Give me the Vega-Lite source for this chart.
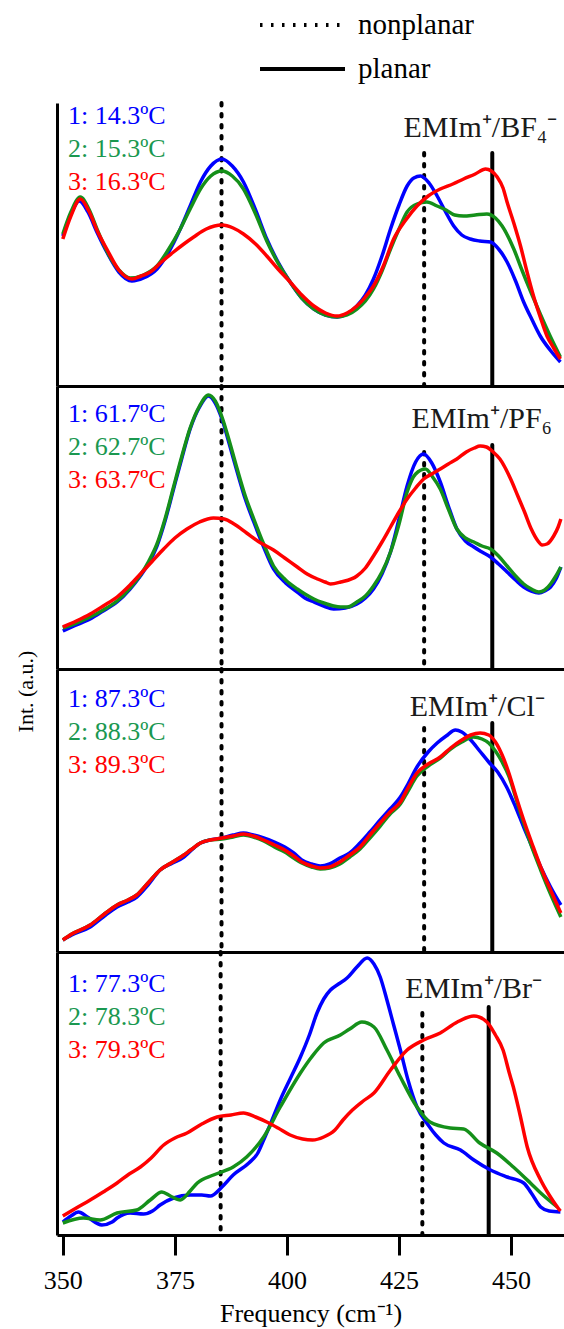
{
"$schema": "https://vega.github.io/schema/vega-lite/v6.json",
"autosize": {"type": "none"},
"padding": {"left": 57, "top": 103, "right": 507, "bottom": 1226},
"background": "white",
"bounds": "flush",
"spacing": 0,
"datasets": {
"refs": [
{"p":"a","type":"nonplanar","f":385.4,"top":283},{"p":"a","type":"nonplanar","f":430.6,"top":233},{"p":"a","type":"planar","f":445.8,"top":233},
{"p":"b","type":"nonplanar","f":385.4,"top":283},{"p":"b","type":"nonplanar","f":430.6,"top":217},{"p":"b","type":"planar","f":445.8,"top":224},
{"p":"c","type":"nonplanar","f":385.4,"top":283},{"p":"c","type":"nonplanar","f":430.6,"top":224},{"p":"c","type":"planar","f":445.8,"top":229},
{"p":"d","type":"nonplanar","f":385.2,"top":283},{"p":"d","type":"nonplanar","f":430.2,"top":222},{"p":"d","type":"planar","f":445.0,"top":228}
],
"names": [
{"p":"a","name":"EMIm⁺/BF₄⁻","f":426.0,"v":249},
{"p":"b","name":"EMIm⁺/PF₆","f":427.8,"v":241},
{"p":"c","name":"EMIm⁺/Cl⁻","f":427.4,"v":236},
{"p":"d","name":"EMIm⁺/Br⁻","f":426.4,"v":237}
],
"curves": [
{"p":"a","t":"1: 14.3ºC","f":350,"v":150},{"p":"a","t":"1: 14.3ºC","f":351.8,"v":172},{"p":"a","t":"1: 14.3ºC","f":353.7,"v":185},{"p":"a","t":"1: 14.3ºC","f":355.6,"v":174},{"p":"a","t":"1: 14.3ºC","f":357.7,"v":153},{"p":"a","t":"1: 14.3ºC","f":359.8,"v":134},{"p":"a","t":"1: 14.3ºC","f":362.5,"v":114},{"p":"a","t":"1: 14.3ºC","f":365.4,"v":105},{"p":"a","t":"1: 14.3ºC","f":368,"v":108},{"p":"a","t":"1: 14.3ºC","f":371,"v":117},{"p":"a","t":"1: 14.3ºC","f":373.5,"v":133},{"p":"a","t":"1: 14.3ºC","f":376.2,"v":157},{"p":"a","t":"1: 14.3ºC","f":378.5,"v":181},{"p":"a","t":"1: 14.3ºC","f":380.7,"v":204},{"p":"a","t":"1: 14.3ºC","f":383,"v":220},{"p":"a","t":"1: 14.3ºC","f":385.5,"v":227},{"p":"a","t":"1: 14.3ºC","f":387.8,"v":220},{"p":"a","t":"1: 14.3ºC","f":390.3,"v":204},{"p":"a","t":"1: 14.3ºC","f":393,"v":176},{"p":"a","t":"1: 14.3ºC","f":395.5,"v":147},{"p":"a","t":"1: 14.3ºC","f":398,"v":124},{"p":"a","t":"1: 14.3ºC","f":400.7,"v":104},{"p":"a","t":"1: 14.3ºC","f":403.3,"v":88},{"p":"a","t":"1: 14.3ºC","f":406,"v":77},{"p":"a","t":"1: 14.3ºC","f":408.6,"v":71},{"p":"a","t":"1: 14.3ºC","f":411.2,"v":69},{"p":"a","t":"1: 14.3ºC","f":413.4,"v":72},{"p":"a","t":"1: 14.3ºC","f":415.6,"v":80},{"p":"a","t":"1: 14.3ºC","f":417.5,"v":91},{"p":"a","t":"1: 14.3ºC","f":419.3,"v":107},{"p":"a","t":"1: 14.3ºC","f":421.2,"v":130},{"p":"a","t":"1: 14.3ºC","f":423.1,"v":157},{"p":"a","t":"1: 14.3ºC","f":425,"v":181},{"p":"a","t":"1: 14.3ºC","f":426.8,"v":200},{"p":"a","t":"1: 14.3ºC","f":428.3,"v":208},{"p":"a","t":"1: 14.3ºC","f":429.8,"v":210},{"p":"a","t":"1: 14.3ºC","f":431.7,"v":203},{"p":"a","t":"1: 14.3ºC","f":433.5,"v":190},{"p":"a","t":"1: 14.3ºC","f":435.4,"v":174},{"p":"a","t":"1: 14.3ºC","f":437.2,"v":160},{"p":"a","t":"1: 14.3ºC","f":439,"v":151},{"p":"a","t":"1: 14.3ºC","f":440.9,"v":147},{"p":"a","t":"1: 14.3ºC","f":443,"v":145},{"p":"a","t":"1: 14.3ºC","f":445.4,"v":144},{"p":"a","t":"1: 14.3ºC","f":447.2,"v":137},{"p":"a","t":"1: 14.3ºC","f":449.1,"v":124},{"p":"a","t":"1: 14.3ºC","f":451,"v":105},{"p":"a","t":"1: 14.3ºC","f":452.8,"v":84},{"p":"a","t":"1: 14.3ºC","f":454.7,"v":66},{"p":"a","t":"1: 14.3ºC","f":456.5,"v":50},{"p":"a","t":"1: 14.3ºC","f":458.7,"v":36},{"p":"a","t":"1: 14.3ºC","f":461,"v":24},
{"p":"a","t":"2: 15.3ºC","f":350,"v":152},{"p":"a","t":"2: 15.3ºC","f":351.8,"v":174},{"p":"a","t":"2: 15.3ºC","f":353.9,"v":189},{"p":"a","t":"2: 15.3ºC","f":355.8,"v":177},{"p":"a","t":"2: 15.3ºC","f":357.8,"v":155},{"p":"a","t":"2: 15.3ºC","f":359.8,"v":135},{"p":"a","t":"2: 15.3ºC","f":362.5,"v":116},{"p":"a","t":"2: 15.3ºC","f":365,"v":108},{"p":"a","t":"2: 15.3ºC","f":368,"v":111},{"p":"a","t":"2: 15.3ºC","f":371,"v":120},{"p":"a","t":"2: 15.3ºC","f":373.5,"v":136},{"p":"a","t":"2: 15.3ºC","f":376.2,"v":157},{"p":"a","t":"2: 15.3ºC","f":378.5,"v":178},{"p":"a","t":"2: 15.3ºC","f":380.7,"v":197},{"p":"a","t":"2: 15.3ºC","f":383,"v":210},{"p":"a","t":"2: 15.3ºC","f":385.5,"v":215},{"p":"a","t":"2: 15.3ºC","f":387.8,"v":210},{"p":"a","t":"2: 15.3ºC","f":390.3,"v":197},{"p":"a","t":"2: 15.3ºC","f":393,"v":172},{"p":"a","t":"2: 15.3ºC","f":395.5,"v":145},{"p":"a","t":"2: 15.3ºC","f":398,"v":123},{"p":"a","t":"2: 15.3ºC","f":400.7,"v":104},{"p":"a","t":"2: 15.3ºC","f":403.3,"v":88},{"p":"a","t":"2: 15.3ºC","f":406,"v":77},{"p":"a","t":"2: 15.3ºC","f":408.6,"v":71},{"p":"a","t":"2: 15.3ºC","f":411.2,"v":69},{"p":"a","t":"2: 15.3ºC","f":413.4,"v":71},{"p":"a","t":"2: 15.3ºC","f":415.6,"v":77},{"p":"a","t":"2: 15.3ºC","f":417.5,"v":85},{"p":"a","t":"2: 15.3ºC","f":419.3,"v":97},{"p":"a","t":"2: 15.3ºC","f":421.2,"v":115},{"p":"a","t":"2: 15.3ºC","f":423.1,"v":137},{"p":"a","t":"2: 15.3ºC","f":425,"v":157},{"p":"a","t":"2: 15.3ºC","f":426.8,"v":174},{"p":"a","t":"2: 15.3ºC","f":429,"v":182},{"p":"a","t":"2: 15.3ºC","f":431.2,"v":184},{"p":"a","t":"2: 15.3ºC","f":433.5,"v":180},{"p":"a","t":"2: 15.3ºC","f":435.5,"v":176},{"p":"a","t":"2: 15.3ºC","f":437.4,"v":171},{"p":"a","t":"2: 15.3ºC","f":439.4,"v":170},{"p":"a","t":"2: 15.3ºC","f":442,"v":171},{"p":"a","t":"2: 15.3ºC","f":444.6,"v":172},{"p":"a","t":"2: 15.3ºC","f":446.5,"v":168},{"p":"a","t":"2: 15.3ºC","f":448,"v":160},{"p":"a","t":"2: 15.3ºC","f":450.6,"v":137},{"p":"a","t":"2: 15.3ºC","f":452.5,"v":115},{"p":"a","t":"2: 15.3ºC","f":454.5,"v":93},{"p":"a","t":"2: 15.3ºC","f":456.5,"v":72},{"p":"a","t":"2: 15.3ºC","f":458.7,"v":50},{"p":"a","t":"2: 15.3ºC","f":461,"v":29},
{"p":"a","t":"3: 16.3ºC","f":350,"v":147},{"p":"a","t":"3: 16.3ºC","f":351.8,"v":170},{"p":"a","t":"3: 16.3ºC","f":353.9,"v":187},{"p":"a","t":"3: 16.3ºC","f":355.8,"v":175},{"p":"a","t":"3: 16.3ºC","f":357.8,"v":154},{"p":"a","t":"3: 16.3ºC","f":359.8,"v":137},{"p":"a","t":"3: 16.3ºC","f":362.5,"v":116},{"p":"a","t":"3: 16.3ºC","f":365.4,"v":107},{"p":"a","t":"3: 16.3ºC","f":367.5,"v":110},{"p":"a","t":"3: 16.3ºC","f":369.5,"v":114},{"p":"a","t":"3: 16.3ºC","f":372,"v":124},{"p":"a","t":"3: 16.3ºC","f":374.7,"v":134},{"p":"a","t":"3: 16.3ºC","f":377,"v":142},{"p":"a","t":"3: 16.3ºC","f":379.2,"v":149},{"p":"a","t":"3: 16.3ºC","f":382,"v":157},{"p":"a","t":"3: 16.3ºC","f":385.5,"v":161},{"p":"a","t":"3: 16.3ºC","f":388,"v":158},{"p":"a","t":"3: 16.3ºC","f":390.3,"v":152},{"p":"a","t":"3: 16.3ºC","f":393,"v":142},{"p":"a","t":"3: 16.3ºC","f":395.5,"v":130},{"p":"a","t":"3: 16.3ºC","f":398,"v":117},{"p":"a","t":"3: 16.3ºC","f":400.7,"v":104},{"p":"a","t":"3: 16.3ºC","f":403.3,"v":91},{"p":"a","t":"3: 16.3ºC","f":406,"v":80},{"p":"a","t":"3: 16.3ºC","f":408.6,"v":73},{"p":"a","t":"3: 16.3ºC","f":411.2,"v":70},{"p":"a","t":"3: 16.3ºC","f":413.4,"v":73},{"p":"a","t":"3: 16.3ºC","f":415.6,"v":80},{"p":"a","t":"3: 16.3ºC","f":417.5,"v":89},{"p":"a","t":"3: 16.3ºC","f":419.3,"v":100},{"p":"a","t":"3: 16.3ºC","f":421.5,"v":120},{"p":"a","t":"3: 16.3ºC","f":423.8,"v":147},{"p":"a","t":"3: 16.3ºC","f":426.5,"v":166},{"p":"a","t":"3: 16.3ºC","f":429,"v":180},{"p":"a","t":"3: 16.3ºC","f":431.5,"v":190},{"p":"a","t":"3: 16.3ºC","f":434.2,"v":197},{"p":"a","t":"3: 16.3ºC","f":437,"v":202},{"p":"a","t":"3: 16.3ºC","f":439.4,"v":207},{"p":"a","t":"3: 16.3ºC","f":442,"v":212},{"p":"a","t":"3: 16.3ºC","f":444.3,"v":217},{"p":"a","t":"3: 16.3ºC","f":445.6,"v":215},{"p":"a","t":"3: 16.3ºC","f":446.9,"v":209},{"p":"a","t":"3: 16.3ºC","f":448.2,"v":198},{"p":"a","t":"3: 16.3ºC","f":449.1,"v":184},{"p":"a","t":"3: 16.3ºC","f":450.6,"v":163},{"p":"a","t":"3: 16.3ºC","f":452.1,"v":140},{"p":"a","t":"3: 16.3ºC","f":453.5,"v":115},{"p":"a","t":"3: 16.3ºC","f":455,"v":90},{"p":"a","t":"3: 16.3ºC","f":456.5,"v":69},{"p":"a","t":"3: 16.3ºC","f":458,"v":50},{"p":"a","t":"3: 16.3ºC","f":459.5,"v":38},{"p":"a","t":"3: 16.3ºC","f":461,"v":27},
{"p":"b","t":"1: 61.7ºC","f":350,"v":38},{"p":"b","t":"1: 61.7ºC","f":352.5,"v":43},{"p":"b","t":"1: 61.7ºC","f":356.1,"v":50},{"p":"b","t":"1: 61.7ºC","f":359,"v":58},{"p":"b","t":"1: 61.7ºC","f":362.1,"v":67},{"p":"b","t":"1: 61.7ºC","f":365,"v":80},{"p":"b","t":"1: 61.7ºC","f":367.3,"v":93},{"p":"b","t":"1: 61.7ºC","f":369.2,"v":106},{"p":"b","t":"1: 61.7ºC","f":371,"v":123},{"p":"b","t":"1: 61.7ºC","f":372.8,"v":148},{"p":"b","t":"1: 61.7ºC","f":374.7,"v":180},{"p":"b","t":"1: 61.7ºC","f":376.5,"v":210},{"p":"b","t":"1: 61.7ºC","f":378.4,"v":240},{"p":"b","t":"1: 61.7ºC","f":380.5,"v":262},{"p":"b","t":"1: 61.7ºC","f":382.5,"v":273},{"p":"b","t":"1: 61.7ºC","f":384,"v":266},{"p":"b","t":"1: 61.7ºC","f":385.5,"v":250},{"p":"b","t":"1: 61.7ºC","f":387.2,"v":224},{"p":"b","t":"1: 61.7ºC","f":388.9,"v":197},{"p":"b","t":"1: 61.7ºC","f":390.7,"v":170},{"p":"b","t":"1: 61.7ºC","f":392.6,"v":147},{"p":"b","t":"1: 61.7ºC","f":394.8,"v":122},{"p":"b","t":"1: 61.7ºC","f":397,"v":100},{"p":"b","t":"1: 61.7ºC","f":399.7,"v":86},{"p":"b","t":"1: 61.7ºC","f":402.3,"v":77},{"p":"b","t":"1: 61.7ºC","f":404,"v":71},{"p":"b","t":"1: 61.7ºC","f":406,"v":67},{"p":"b","t":"1: 61.7ºC","f":408.2,"v":63},{"p":"b","t":"1: 61.7ºC","f":410.4,"v":60},{"p":"b","t":"1: 61.7ºC","f":413,"v":61},{"p":"b","t":"1: 61.7ºC","f":415.6,"v":65},{"p":"b","t":"1: 61.7ºC","f":417.5,"v":71},{"p":"b","t":"1: 61.7ºC","f":419.3,"v":80},{"p":"b","t":"1: 61.7ºC","f":421.2,"v":95},{"p":"b","t":"1: 61.7ºC","f":423.1,"v":117},{"p":"b","t":"1: 61.7ºC","f":425,"v":150},{"p":"b","t":"1: 61.7ºC","f":426.8,"v":183},{"p":"b","t":"1: 61.7ºC","f":428.7,"v":207},{"p":"b","t":"1: 61.7ºC","f":430.5,"v":215},{"p":"b","t":"1: 61.7ºC","f":432.3,"v":206},{"p":"b","t":"1: 61.7ºC","f":434.2,"v":187},{"p":"b","t":"1: 61.7ºC","f":436,"v":163},{"p":"b","t":"1: 61.7ºC","f":437.9,"v":140},{"p":"b","t":"1: 61.7ºC","f":439.8,"v":128},{"p":"b","t":"1: 61.7ºC","f":441.7,"v":122},{"p":"b","t":"1: 61.7ºC","f":443.5,"v":117},{"p":"b","t":"1: 61.7ºC","f":445.4,"v":112},{"p":"b","t":"1: 61.7ºC","f":447.2,"v":105},{"p":"b","t":"1: 61.7ºC","f":449.1,"v":97},{"p":"b","t":"1: 61.7ºC","f":451,"v":89},{"p":"b","t":"1: 61.7ºC","f":452.8,"v":82},{"p":"b","t":"1: 61.7ºC","f":454.5,"v":78},{"p":"b","t":"1: 61.7ºC","f":456.2,"v":76},{"p":"b","t":"1: 61.7ºC","f":457.5,"v":78},{"p":"b","t":"1: 61.7ºC","f":458.8,"v":82},{"p":"b","t":"1: 61.7ºC","f":460,"v":90},{"p":"b","t":"1: 61.7ºC","f":461.1,"v":102},
{"p":"b","t":"2: 62.7ºC","f":350,"v":41},{"p":"b","t":"2: 62.7ºC","f":352.5,"v":45},{"p":"b","t":"2: 62.7ºC","f":356.1,"v":52},{"p":"b","t":"2: 62.7ºC","f":359,"v":59},{"p":"b","t":"2: 62.7ºC","f":362.1,"v":68},{"p":"b","t":"2: 62.7ºC","f":365,"v":81},{"p":"b","t":"2: 62.7ºC","f":367.3,"v":94},{"p":"b","t":"2: 62.7ºC","f":369.2,"v":108},{"p":"b","t":"2: 62.7ºC","f":371,"v":125},{"p":"b","t":"2: 62.7ºC","f":372.8,"v":150},{"p":"b","t":"2: 62.7ºC","f":374.7,"v":182},{"p":"b","t":"2: 62.7ºC","f":376.5,"v":212},{"p":"b","t":"2: 62.7ºC","f":378.4,"v":241},{"p":"b","t":"2: 62.7ºC","f":380.5,"v":263},{"p":"b","t":"2: 62.7ºC","f":382.5,"v":274},{"p":"b","t":"2: 62.7ºC","f":384,"v":268},{"p":"b","t":"2: 62.7ºC","f":385.5,"v":252},{"p":"b","t":"2: 62.7ºC","f":387.2,"v":227},{"p":"b","t":"2: 62.7ºC","f":388.9,"v":200},{"p":"b","t":"2: 62.7ºC","f":390.7,"v":173},{"p":"b","t":"2: 62.7ºC","f":392.6,"v":150},{"p":"b","t":"2: 62.7ºC","f":394.8,"v":125},{"p":"b","t":"2: 62.7ºC","f":397,"v":103},{"p":"b","t":"2: 62.7ºC","f":399.7,"v":89},{"p":"b","t":"2: 62.7ºC","f":402.3,"v":80},{"p":"b","t":"2: 62.7ºC","f":404,"v":75},{"p":"b","t":"2: 62.7ºC","f":406,"v":70},{"p":"b","t":"2: 62.7ºC","f":408.2,"v":66},{"p":"b","t":"2: 62.7ºC","f":410.4,"v":63},{"p":"b","t":"2: 62.7ºC","f":412,"v":62},{"p":"b","t":"2: 62.7ºC","f":413.5,"v":62},{"p":"b","t":"2: 62.7ºC","f":415.6,"v":67},{"p":"b","t":"2: 62.7ºC","f":417.5,"v":73},{"p":"b","t":"2: 62.7ºC","f":419.3,"v":83},{"p":"b","t":"2: 62.7ºC","f":421.2,"v":97},{"p":"b","t":"2: 62.7ºC","f":423.1,"v":117},{"p":"b","t":"2: 62.7ºC","f":425,"v":145},{"p":"b","t":"2: 62.7ºC","f":426.8,"v":177},{"p":"b","t":"2: 62.7ºC","f":428.7,"v":195},{"p":"b","t":"2: 62.7ºC","f":430.9,"v":200},{"p":"b","t":"2: 62.7ºC","f":432.5,"v":192},{"p":"b","t":"2: 62.7ºC","f":434.2,"v":180},{"p":"b","t":"2: 62.7ºC","f":436,"v":160},{"p":"b","t":"2: 62.7ºC","f":437.9,"v":140},{"p":"b","t":"2: 62.7ºC","f":439.8,"v":131},{"p":"b","t":"2: 62.7ºC","f":441.7,"v":127},{"p":"b","t":"2: 62.7ºC","f":443.5,"v":123},{"p":"b","t":"2: 62.7ºC","f":445.4,"v":120},{"p":"b","t":"2: 62.7ºC","f":447.2,"v":113},{"p":"b","t":"2: 62.7ºC","f":449.1,"v":103},{"p":"b","t":"2: 62.7ºC","f":451,"v":93},{"p":"b","t":"2: 62.7ºC","f":452.8,"v":85},{"p":"b","t":"2: 62.7ºC","f":454.5,"v":80},{"p":"b","t":"2: 62.7ºC","f":456.2,"v":77},{"p":"b","t":"2: 62.7ºC","f":457.5,"v":79},{"p":"b","t":"2: 62.7ºC","f":458.8,"v":85},{"p":"b","t":"2: 62.7ºC","f":460,"v":93},{"p":"b","t":"2: 62.7ºC","f":461.1,"v":102},
{"p":"b","t":"3: 63.7ºC","f":350,"v":42},{"p":"b","t":"3: 63.7ºC","f":353,"v":48},{"p":"b","t":"3: 63.7ºC","f":356.1,"v":55},{"p":"b","t":"3: 63.7ºC","f":359,"v":63},{"p":"b","t":"3: 63.7ºC","f":362.1,"v":72},{"p":"b","t":"3: 63.7ºC","f":365,"v":84},{"p":"b","t":"3: 63.7ºC","f":367.3,"v":95},{"p":"b","t":"3: 63.7ºC","f":370,"v":108},{"p":"b","t":"3: 63.7ºC","f":372.5,"v":120},{"p":"b","t":"3: 63.7ºC","f":375,"v":131},{"p":"b","t":"3: 63.7ºC","f":377.7,"v":140},{"p":"b","t":"3: 63.7ºC","f":380.5,"v":147},{"p":"b","t":"3: 63.7ºC","f":383.6,"v":151},{"p":"b","t":"3: 63.7ºC","f":386,"v":150},{"p":"b","t":"3: 63.7ºC","f":388.2,"v":145},{"p":"b","t":"3: 63.7ºC","f":391,"v":136},{"p":"b","t":"3: 63.7ºC","f":393.8,"v":127},{"p":"b","t":"3: 63.7ºC","f":397,"v":119},{"p":"b","t":"3: 63.7ºC","f":399.5,"v":111},{"p":"b","t":"3: 63.7ºC","f":402.3,"v":102},{"p":"b","t":"3: 63.7ºC","f":404.5,"v":95},{"p":"b","t":"3: 63.7ºC","f":406.8,"v":90},{"p":"b","t":"3: 63.7ºC","f":408.5,"v":87},{"p":"b","t":"3: 63.7ºC","f":409.7,"v":85},{"p":"b","t":"3: 63.7ºC","f":412,"v":87},{"p":"b","t":"3: 63.7ºC","f":415.6,"v":93},{"p":"b","t":"3: 63.7ºC","f":417.5,"v":101},{"p":"b","t":"3: 63.7ºC","f":419.3,"v":113},{"p":"b","t":"3: 63.7ºC","f":421.2,"v":127},{"p":"b","t":"3: 63.7ºC","f":423.1,"v":142},{"p":"b","t":"3: 63.7ºC","f":425,"v":157},{"p":"b","t":"3: 63.7ºC","f":426.8,"v":170},{"p":"b","t":"3: 63.7ºC","f":428.7,"v":181},{"p":"b","t":"3: 63.7ºC","f":430.5,"v":190},{"p":"b","t":"3: 63.7ºC","f":432.3,"v":195},{"p":"b","t":"3: 63.7ºC","f":434.2,"v":200},{"p":"b","t":"3: 63.7ºC","f":436,"v":205},{"p":"b","t":"3: 63.7ºC","f":437.9,"v":210},{"p":"b","t":"3: 63.7ºC","f":440,"v":217},{"p":"b","t":"3: 63.7ºC","f":441.8,"v":221},{"p":"b","t":"3: 63.7ºC","f":443.1,"v":223},{"p":"b","t":"3: 63.7ºC","f":444.5,"v":222},{"p":"b","t":"3: 63.7ºC","f":446,"v":217},{"p":"b","t":"3: 63.7ºC","f":447.5,"v":210},{"p":"b","t":"3: 63.7ºC","f":449.9,"v":190},{"p":"b","t":"3: 63.7ºC","f":451.5,"v":173},{"p":"b","t":"3: 63.7ºC","f":453,"v":157},{"p":"b","t":"3: 63.7ºC","f":454.5,"v":140},{"p":"b","t":"3: 63.7ºC","f":456,"v":128},{"p":"b","t":"3: 63.7ºC","f":456.9,"v":124},{"p":"b","t":"3: 63.7ºC","f":458,"v":125},{"p":"b","t":"3: 63.7ºC","f":459.5,"v":133},{"p":"b","t":"3: 63.7ºC","f":460.5,"v":142},{"p":"b","t":"3: 63.7ºC","f":461.1,"v":150},
{"p":"c","t":"1: 87.3ºC","f":350,"v":12},{"p":"c","t":"1: 87.3ºC","f":352,"v":17},{"p":"c","t":"1: 87.3ºC","f":356.1,"v":25},{"p":"c","t":"1: 87.3ºC","f":359,"v":35},{"p":"c","t":"1: 87.3ºC","f":362.1,"v":45},{"p":"c","t":"1: 87.3ºC","f":364.5,"v":50},{"p":"c","t":"1: 87.3ºC","f":366.5,"v":55},{"p":"c","t":"1: 87.3ºC","f":369,"v":67},{"p":"c","t":"1: 87.3ºC","f":371.7,"v":82},{"p":"c","t":"1: 87.3ºC","f":374.5,"v":89},{"p":"c","t":"1: 87.3ºC","f":377,"v":95},{"p":"c","t":"1: 87.3ºC","f":378.5,"v":101},{"p":"c","t":"1: 87.3ºC","f":380.7,"v":109},{"p":"c","t":"1: 87.3ºC","f":382.8,"v":112},{"p":"c","t":"1: 87.3ºC","f":385.5,"v":114},{"p":"c","t":"1: 87.3ºC","f":388,"v":117},{"p":"c","t":"1: 87.3ºC","f":390.3,"v":119},{"p":"c","t":"1: 87.3ºC","f":392.5,"v":117},{"p":"c","t":"1: 87.3ºC","f":394.8,"v":114},{"p":"c","t":"1: 87.3ºC","f":397.2,"v":110},{"p":"c","t":"1: 87.3ºC","f":399.5,"v":105},{"p":"c","t":"1: 87.3ºC","f":401.5,"v":99},{"p":"c","t":"1: 87.3ºC","f":403.3,"v":92},{"p":"c","t":"1: 87.3ºC","f":405.5,"v":88},{"p":"c","t":"1: 87.3ºC","f":407.4,"v":86},{"p":"c","t":"1: 87.3ºC","f":409.5,"v":88},{"p":"c","t":"1: 87.3ºC","f":411.8,"v":94},{"p":"c","t":"1: 87.3ºC","f":414,"v":99},{"p":"c","t":"1: 87.3ºC","f":416.3,"v":109},{"p":"c","t":"1: 87.3ºC","f":418.5,"v":120},{"p":"c","t":"1: 87.3ºC","f":420.8,"v":132},{"p":"c","t":"1: 87.3ºC","f":423,"v":143},{"p":"c","t":"1: 87.3ºC","f":425.3,"v":155},{"p":"c","t":"1: 87.3ºC","f":427,"v":168},{"p":"c","t":"1: 87.3ºC","f":429,"v":185},{"p":"c","t":"1: 87.3ºC","f":431.5,"v":200},{"p":"c","t":"1: 87.3ºC","f":433.5,"v":209},{"p":"c","t":"1: 87.3ºC","f":435.5,"v":216},{"p":"c","t":"1: 87.3ºC","f":437.6,"v":222},{"p":"c","t":"1: 87.3ºC","f":439,"v":220},{"p":"c","t":"1: 87.3ºC","f":441,"v":212},{"p":"c","t":"1: 87.3ºC","f":443,"v":201},{"p":"c","t":"1: 87.3ºC","f":445,"v":190},{"p":"c","t":"1: 87.3ºC","f":447,"v":180},{"p":"c","t":"1: 87.3ºC","f":449,"v":165},{"p":"c","t":"1: 87.3ºC","f":451,"v":145},{"p":"c","t":"1: 87.3ºC","f":452.8,"v":125},{"p":"c","t":"1: 87.3ºC","f":454.7,"v":105},{"p":"c","t":"1: 87.3ºC","f":456.6,"v":85},{"p":"c","t":"1: 87.3ºC","f":458.8,"v":65},{"p":"c","t":"1: 87.3ºC","f":461.1,"v":47},
{"p":"c","t":"2: 88.3ºC","f":350,"v":12},{"p":"c","t":"2: 88.3ºC","f":352,"v":18},{"p":"c","t":"2: 88.3ºC","f":356.1,"v":27},{"p":"c","t":"2: 88.3ºC","f":359,"v":37},{"p":"c","t":"2: 88.3ºC","f":362.1,"v":47},{"p":"c","t":"2: 88.3ºC","f":364.5,"v":52},{"p":"c","t":"2: 88.3ºC","f":366.5,"v":57},{"p":"c","t":"2: 88.3ºC","f":369,"v":69},{"p":"c","t":"2: 88.3ºC","f":371.7,"v":82},{"p":"c","t":"2: 88.3ºC","f":374.5,"v":90},{"p":"c","t":"2: 88.3ºC","f":377,"v":97},{"p":"c","t":"2: 88.3ºC","f":378.5,"v":102},{"p":"c","t":"2: 88.3ºC","f":380.7,"v":109},{"p":"c","t":"2: 88.3ºC","f":382.8,"v":112},{"p":"c","t":"2: 88.3ºC","f":385.5,"v":113},{"p":"c","t":"2: 88.3ºC","f":388,"v":115},{"p":"c","t":"2: 88.3ºC","f":390.3,"v":117},{"p":"c","t":"2: 88.3ºC","f":392.5,"v":115},{"p":"c","t":"2: 88.3ºC","f":394.8,"v":111},{"p":"c","t":"2: 88.3ºC","f":397.2,"v":105},{"p":"c","t":"2: 88.3ºC","f":399.5,"v":100},{"p":"c","t":"2: 88.3ºC","f":401.5,"v":94},{"p":"c","t":"2: 88.3ºC","f":403.3,"v":89},{"p":"c","t":"2: 88.3ºC","f":405.5,"v":85},{"p":"c","t":"2: 88.3ºC","f":407.4,"v":83},{"p":"c","t":"2: 88.3ºC","f":409.5,"v":84},{"p":"c","t":"2: 88.3ºC","f":411.8,"v":88},{"p":"c","t":"2: 88.3ºC","f":414,"v":95},{"p":"c","t":"2: 88.3ºC","f":416.3,"v":103},{"p":"c","t":"2: 88.3ºC","f":418.5,"v":114},{"p":"c","t":"2: 88.3ºC","f":420.8,"v":126},{"p":"c","t":"2: 88.3ºC","f":423,"v":138},{"p":"c","t":"2: 88.3ºC","f":425.3,"v":148},{"p":"c","t":"2: 88.3ºC","f":427,"v":161},{"p":"c","t":"2: 88.3ºC","f":429,"v":176},{"p":"c","t":"2: 88.3ºC","f":431.5,"v":186},{"p":"c","t":"2: 88.3ºC","f":434.2,"v":194},{"p":"c","t":"2: 88.3ºC","f":436.5,"v":203},{"p":"c","t":"2: 88.3ºC","f":439,"v":210},{"p":"c","t":"2: 88.3ºC","f":441.6,"v":215},{"p":"c","t":"2: 88.3ºC","f":443.5,"v":213},{"p":"c","t":"2: 88.3ºC","f":445,"v":209},{"p":"c","t":"2: 88.3ºC","f":446.5,"v":201},{"p":"c","t":"2: 88.3ºC","f":448,"v":190},{"p":"c","t":"2: 88.3ºC","f":449.5,"v":176},{"p":"c","t":"2: 88.3ºC","f":451,"v":155},{"p":"c","t":"2: 88.3ºC","f":452.8,"v":129},{"p":"c","t":"2: 88.3ºC","f":454.7,"v":104},{"p":"c","t":"2: 88.3ºC","f":456.6,"v":82},{"p":"c","t":"2: 88.3ºC","f":458.8,"v":58},{"p":"c","t":"2: 88.3ºC","f":461.1,"v":35},
{"p":"c","t":"3: 89.3ºC","f":350,"v":12},{"p":"c","t":"3: 89.3ºC","f":352,"v":18},{"p":"c","t":"3: 89.3ºC","f":356.1,"v":27},{"p":"c","t":"3: 89.3ºC","f":359,"v":37},{"p":"c","t":"3: 89.3ºC","f":362.1,"v":47},{"p":"c","t":"3: 89.3ºC","f":364.5,"v":52},{"p":"c","t":"3: 89.3ºC","f":366.5,"v":57},{"p":"c","t":"3: 89.3ºC","f":369,"v":69},{"p":"c","t":"3: 89.3ºC","f":371.7,"v":82},{"p":"c","t":"3: 89.3ºC","f":374.5,"v":90},{"p":"c","t":"3: 89.3ºC","f":377,"v":97},{"p":"c","t":"3: 89.3ºC","f":378.5,"v":102},{"p":"c","t":"3: 89.3ºC","f":380.7,"v":109},{"p":"c","t":"3: 89.3ºC","f":382.8,"v":112},{"p":"c","t":"3: 89.3ºC","f":385.5,"v":114},{"p":"c","t":"3: 89.3ºC","f":388,"v":116},{"p":"c","t":"3: 89.3ºC","f":390.3,"v":118},{"p":"c","t":"3: 89.3ºC","f":392.5,"v":116},{"p":"c","t":"3: 89.3ºC","f":394.8,"v":112},{"p":"c","t":"3: 89.3ºC","f":397.2,"v":107},{"p":"c","t":"3: 89.3ºC","f":399.5,"v":102},{"p":"c","t":"3: 89.3ºC","f":401.5,"v":96},{"p":"c","t":"3: 89.3ºC","f":403.3,"v":90},{"p":"c","t":"3: 89.3ºC","f":405.5,"v":86},{"p":"c","t":"3: 89.3ºC","f":407.4,"v":84},{"p":"c","t":"3: 89.3ºC","f":409.5,"v":85},{"p":"c","t":"3: 89.3ºC","f":411.8,"v":90},{"p":"c","t":"3: 89.3ºC","f":414,"v":97},{"p":"c","t":"3: 89.3ºC","f":416.3,"v":105},{"p":"c","t":"3: 89.3ºC","f":418.5,"v":117},{"p":"c","t":"3: 89.3ºC","f":420.8,"v":129},{"p":"c","t":"3: 89.3ºC","f":423,"v":140},{"p":"c","t":"3: 89.3ºC","f":425.3,"v":150},{"p":"c","t":"3: 89.3ºC","f":427,"v":164},{"p":"c","t":"3: 89.3ºC","f":429,"v":179},{"p":"c","t":"3: 89.3ºC","f":431.5,"v":188},{"p":"c","t":"3: 89.3ºC","f":434.2,"v":195},{"p":"c","t":"3: 89.3ºC","f":436.5,"v":204},{"p":"c","t":"3: 89.3ºC","f":439,"v":212},{"p":"c","t":"3: 89.3ºC","f":441,"v":217},{"p":"c","t":"3: 89.3ºC","f":443.1,"v":219},{"p":"c","t":"3: 89.3ºC","f":445,"v":217},{"p":"c","t":"3: 89.3ºC","f":446.5,"v":210},{"p":"c","t":"3: 89.3ºC","f":448,"v":197},{"p":"c","t":"3: 89.3ºC","f":449.5,"v":179},{"p":"c","t":"3: 89.3ºC","f":451,"v":157},{"p":"c","t":"3: 89.3ºC","f":452.8,"v":132},{"p":"c","t":"3: 89.3ºC","f":454.7,"v":108},{"p":"c","t":"3: 89.3ºC","f":456.6,"v":85},{"p":"c","t":"3: 89.3ºC","f":458.8,"v":62},{"p":"c","t":"3: 89.3ºC","f":461.1,"v":39},
{"p":"d","t":"1: 77.3ºC","f":350,"v":13},{"p":"d","t":"1: 77.3ºC","f":351.8,"v":19},{"p":"d","t":"1: 77.3ºC","f":353.5,"v":23},{"p":"d","t":"1: 77.3ºC","f":355.5,"v":18},{"p":"d","t":"1: 77.3ºC","f":358.7,"v":10},{"p":"d","t":"1: 77.3ºC","f":361,"v":13},{"p":"d","t":"1: 77.3ºC","f":362.1,"v":17},{"p":"d","t":"1: 77.3ºC","f":365,"v":22},{"p":"d","t":"1: 77.3ºC","f":368,"v":21},{"p":"d","t":"1: 77.3ºC","f":370,"v":24},{"p":"d","t":"1: 77.3ºC","f":371.7,"v":30},{"p":"d","t":"1: 77.3ºC","f":374.7,"v":37},{"p":"d","t":"1: 77.3ºC","f":378.4,"v":40},{"p":"d","t":"1: 77.3ºC","f":381,"v":40},{"p":"d","t":"1: 77.3ºC","f":382.9,"v":39},{"p":"d","t":"1: 77.3ºC","f":385.5,"v":48},{"p":"d","t":"1: 77.3ºC","f":388,"v":60},{"p":"d","t":"1: 77.3ºC","f":391.5,"v":72},{"p":"d","t":"1: 77.3ºC","f":393.5,"v":82},{"p":"d","t":"1: 77.3ºC","f":394.8,"v":95},{"p":"d","t":"1: 77.3ºC","f":396.5,"v":113},{"p":"d","t":"1: 77.3ºC","f":398.5,"v":135},{"p":"d","t":"1: 77.3ºC","f":400.8,"v":157},{"p":"d","t":"1: 77.3ºC","f":403,"v":178},{"p":"d","t":"1: 77.3ºC","f":405,"v":200},{"p":"d","t":"1: 77.3ºC","f":406.7,"v":222},{"p":"d","t":"1: 77.3ºC","f":408.2,"v":236},{"p":"d","t":"1: 77.3ºC","f":409.7,"v":245},{"p":"d","t":"1: 77.3ºC","f":411.5,"v":251},{"p":"d","t":"1: 77.3ºC","f":413.4,"v":257},{"p":"d","t":"1: 77.3ºC","f":415.6,"v":268},{"p":"d","t":"1: 77.3ºC","f":417.9,"v":277},{"p":"d","t":"1: 77.3ºC","f":419.4,"v":271},{"p":"d","t":"1: 77.3ºC","f":420.8,"v":258},{"p":"d","t":"1: 77.3ºC","f":422.3,"v":235},{"p":"d","t":"1: 77.3ºC","f":423.8,"v":210},{"p":"d","t":"1: 77.3ºC","f":425.3,"v":185},{"p":"d","t":"1: 77.3ºC","f":427,"v":155},{"p":"d","t":"1: 77.3ºC","f":429,"v":128},{"p":"d","t":"1: 77.3ºC","f":431.5,"v":110},{"p":"d","t":"1: 77.3ºC","f":433.2,"v":100},{"p":"d","t":"1: 77.3ºC","f":435,"v":92},{"p":"d","t":"1: 77.3ºC","f":438.7,"v":85},{"p":"d","t":"1: 77.3ºC","f":441.7,"v":75},{"p":"d","t":"1: 77.3ºC","f":445.4,"v":65},{"p":"d","t":"1: 77.3ºC","f":449.1,"v":58},{"p":"d","t":"1: 77.3ºC","f":452.8,"v":52},{"p":"d","t":"1: 77.3ºC","f":454.5,"v":42},{"p":"d","t":"1: 77.3ºC","f":456.6,"v":28},{"p":"d","t":"1: 77.3ºC","f":458.5,"v":24},{"p":"d","t":"1: 77.3ºC","f":461,"v":23},
{"p":"d","t":"2: 78.3ºC","f":350,"v":12},{"p":"d","t":"2: 78.3ºC","f":354.6,"v":17},{"p":"d","t":"2: 78.3ºC","f":358.3,"v":15},{"p":"d","t":"2: 78.3ºC","f":362.1,"v":22},{"p":"d","t":"2: 78.3ºC","f":366.5,"v":25},{"p":"d","t":"2: 78.3ºC","f":369.5,"v":35},{"p":"d","t":"2: 78.3ºC","f":372.1,"v":43},{"p":"d","t":"2: 78.3ºC","f":374,"v":39},{"p":"d","t":"2: 78.3ºC","f":376.2,"v":35},{"p":"d","t":"2: 78.3ºC","f":378.4,"v":44},{"p":"d","t":"2: 78.3ºC","f":380,"v":52},{"p":"d","t":"2: 78.3ºC","f":383.6,"v":60},{"p":"d","t":"2: 78.3ºC","f":388,"v":68},{"p":"d","t":"2: 78.3ºC","f":391,"v":78},{"p":"d","t":"2: 78.3ºC","f":394.8,"v":98},{"p":"d","t":"2: 78.3ºC","f":398.5,"v":128},{"p":"d","t":"2: 78.3ºC","f":403,"v":162},{"p":"d","t":"2: 78.3ºC","f":405.5,"v":178},{"p":"d","t":"2: 78.3ºC","f":408.2,"v":192},{"p":"d","t":"2: 78.3ºC","f":411.9,"v":200},{"p":"d","t":"2: 78.3ºC","f":414,"v":206},{"p":"d","t":"2: 78.3ºC","f":416.7,"v":213},{"p":"d","t":"2: 78.3ºC","f":419.4,"v":208},{"p":"d","t":"2: 78.3ºC","f":422.3,"v":185},{"p":"d","t":"2: 78.3ºC","f":425.3,"v":158},{"p":"d","t":"2: 78.3ºC","f":429,"v":128},{"p":"d","t":"2: 78.3ºC","f":431.9,"v":113},{"p":"d","t":"2: 78.3ºC","f":436.4,"v":107},{"p":"d","t":"2: 78.3ºC","f":439.4,"v":106},{"p":"d","t":"2: 78.3ºC","f":443,"v":92},{"p":"d","t":"2: 78.3ºC","f":446.8,"v":82},{"p":"d","t":"2: 78.3ºC","f":450.5,"v":68},{"p":"d","t":"2: 78.3ºC","f":454.3,"v":52},{"p":"d","t":"2: 78.3ºC","f":456.6,"v":42},{"p":"d","t":"2: 78.3ºC","f":460.3,"v":28},
{"p":"d","t":"3: 79.3ºC","f":350,"v":19},{"p":"d","t":"3: 79.3ºC","f":353,"v":27},{"p":"d","t":"3: 79.3ºC","f":356.1,"v":35},{"p":"d","t":"3: 79.3ºC","f":359,"v":43},{"p":"d","t":"3: 79.3ºC","f":362.1,"v":52},{"p":"d","t":"3: 79.3ºC","f":364.8,"v":61},{"p":"d","t":"3: 79.3ºC","f":367.3,"v":68},{"p":"d","t":"3: 79.3ºC","f":369.7,"v":77},{"p":"d","t":"3: 79.3ºC","f":372.5,"v":90},{"p":"d","t":"3: 79.3ºC","f":375,"v":97},{"p":"d","t":"3: 79.3ºC","f":377.7,"v":102},{"p":"d","t":"3: 79.3ºC","f":381,"v":111},{"p":"d","t":"3: 79.3ºC","f":384.4,"v":118},{"p":"d","t":"3: 79.3ºC","f":387.5,"v":120},{"p":"d","t":"3: 79.3ºC","f":390.3,"v":122},{"p":"d","t":"3: 79.3ºC","f":393,"v":118},{"p":"d","t":"3: 79.3ºC","f":395.5,"v":113},{"p":"d","t":"3: 79.3ºC","f":398,"v":107},{"p":"d","t":"3: 79.3ºC","f":400.7,"v":100},{"p":"d","t":"3: 79.3ºC","f":403.5,"v":96},{"p":"d","t":"3: 79.3ºC","f":405.7,"v":95},{"p":"d","t":"3: 79.3ºC","f":408.2,"v":98},{"p":"d","t":"3: 79.3ºC","f":410.7,"v":105},{"p":"d","t":"3: 79.3ºC","f":412.5,"v":115},{"p":"d","t":"3: 79.3ºC","f":414.6,"v":125},{"p":"d","t":"3: 79.3ºC","f":417,"v":134},{"p":"d","t":"3: 79.3ºC","f":419.4,"v":142},{"p":"d","t":"3: 79.3ºC","f":423.1,"v":165},{"p":"d","t":"3: 79.3ºC","f":426.8,"v":185},{"p":"d","t":"3: 79.3ºC","f":430.5,"v":195},{"p":"d","t":"3: 79.3ºC","f":434.2,"v":202},{"p":"d","t":"3: 79.3ºC","f":438,"v":213},{"p":"d","t":"3: 79.3ºC","f":441.7,"v":219},{"p":"d","t":"3: 79.3ºC","f":444.6,"v":213},{"p":"d","t":"3: 79.3ºC","f":446.5,"v":200},{"p":"d","t":"3: 79.3ºC","f":448.2,"v":185},{"p":"d","t":"3: 79.3ºC","f":449.6,"v":162},{"p":"d","t":"3: 79.3ºC","f":450.5,"v":148},{"p":"d","t":"3: 79.3ºC","f":452,"v":120},{"p":"d","t":"3: 79.3ºC","f":453.6,"v":88},{"p":"d","t":"3: 79.3ºC","f":456.6,"v":55},{"p":"d","t":"3: 79.3ºC","f":458.5,"v":40},{"p":"d","t":"3: 79.3ºC","f":460.3,"v":28},{"p":"d","t":"3: 79.3ºC","f":461,"v":24}
]
},
"vconcat": [
{
"width": 507, "height": 283,
"layer": [
{"data": {"name": "refs"}, "transform": [{"filter": "datum.p == 'a'"}],
 "mark": {"type": "rule", "color": "black", "strokeWidth": 4, "strokeCap": "round"},
 "encoding": {
  "x": {"field": "f", "type": "quantitative", "scale": {"domain": [348.7, 461.8], "nice": false, "zero": false}, "axis": {"labels": false, "ticks": false, "title": null, "grid": false, "domainWidth": 3, "domainColor": "black"}},
  "y": {"field": "top", "type": "quantitative", "scale": {"domain": [0, 283], "nice": false}, "axis": {"labels": false, "ticks": false, "title": null, "grid": false, "domainWidth": 3, "domainColor": "black"}},
  "y2": {"datum": 0},
  "strokeDash": {"field": "type", "type": "nominal", "scale": {"domain": ["nonplanar", "planar"], "range": [[2.5, 8.5], [1, 0]]},
   "legend": {"orient": "none", "legendX": 201, "legendY": -100, "title": null, "padding": 0, "symbolType": "stroke", "symbolSize": 7225, "symbolStrokeWidth": 4, "symbolStrokeColor": "black", "labelFont": "Liberation Serif", "labelFontSize": 29, "labelColor": "black", "labelOffset": 11, "clipHeight": 44, "rowPadding": 0, "labelLimit": 0}}
 }},
{"data": {"name": "curves"}, "transform": [{"filter": "datum.p == 'a'"}],
 "mark": {"type": "line", "interpolate": "monotone", "strokeWidth": 3.5},
 "encoding": {
  "x": {"field": "f", "type": "quantitative"},
  "y": {"field": "v", "type": "quantitative"},
  "color": {"field": "t", "type": "nominal", "scale": {"range": ["#0000ff", "#15901a", "#ff0000"]},
   "legend": {"orient": "none", "legendX": 0, "legendY": 0, "title": null, "padding": 0, "symbolOpacity": 0, "symbolSize": 1, "symbolStrokeWidth": 0, "labelOffset": -15, "labelFont": "Liberation Serif", "labelFontSize": 26, "rowPadding": 7, "labelLimit": 0, "labelColor": {"expr": "substring(datum.label,0,1) == '1' ? '#0000ff' : substring(datum.label,0,1) == '2' ? '#1a9850' : '#ff0000'"}}}
 }},
{"data": {"name": "names"}, "transform": [{"filter": "datum.p == 'a'"}],
 "mark": {"type": "text", "align": "left", "baseline": "alphabetic", "font": "Liberation Serif", "fontSize": 30, "color": "#1a1a1a"},
 "encoding": {"x": {"field": "f", "type": "quantitative"}, "y": {"field": "v", "type": "quantitative"}, "text": {"field": "name"}}}
]
},
{
"width": 507, "height": 283,
"layer": [
{"data": {"name": "refs"}, "transform": [{"filter": "datum.p == 'b'"}],
 "mark": {"type": "rule", "color": "black", "strokeWidth": 4, "strokeCap": "round"},
 "encoding": {
  "x": {"field": "f", "type": "quantitative", "scale": {"domain": [348.7, 461.8], "nice": false, "zero": false}, "axis": {"labels": false, "ticks": false, "title": null, "grid": false, "domainWidth": 3, "domainColor": "black"}},
  "y": {"field": "top", "type": "quantitative", "scale": {"domain": [0, 283], "nice": false}, "axis": {"labels": false, "ticks": false, "title": "Int. (a.u.)", "titleX": -20, "titleY": 305, "titleFont": "Liberation Serif", "titleFontSize": 22, "titleFontWeight": "normal", "titleColor": "black", "grid": false, "domainWidth": 3, "domainColor": "black"}},
  "y2": {"datum": 0},
  "strokeDash": {"field": "type", "type": "nominal", "scale": {"domain": ["nonplanar", "planar"], "range": [[2.5, 8.5], [1, 0]]},
   "legend": {"orient": "none", "legendX": 201, "legendY": -100, "title": null, "padding": 0, "symbolType": "stroke", "symbolSize": 7225, "symbolStrokeWidth": 4, "symbolStrokeColor": "black", "labelFont": "Liberation Serif", "labelFontSize": 29, "labelColor": "black", "labelOffset": 11, "clipHeight": 44, "rowPadding": 0, "labelLimit": 0}}
 }},
{"data": {"name": "curves"}, "transform": [{"filter": "datum.p == 'b'"}],
 "mark": {"type": "line", "interpolate": "monotone", "strokeWidth": 3.5},
 "encoding": {
  "x": {"field": "f", "type": "quantitative"},
  "y": {"field": "v", "type": "quantitative"},
  "color": {"field": "t", "type": "nominal", "scale": {"range": ["#0000ff", "#15901a", "#ff0000"]},
   "legend": {"orient": "none", "legendX": 0, "legendY": 15, "title": null, "padding": 0, "symbolOpacity": 0, "symbolSize": 1, "symbolStrokeWidth": 0, "labelOffset": -15, "labelFont": "Liberation Serif", "labelFontSize": 26, "rowPadding": 7, "labelLimit": 0, "labelColor": {"expr": "substring(datum.label,0,1) == '1' ? '#0000ff' : substring(datum.label,0,1) == '2' ? '#1a9850' : '#ff0000'"}}}
 }},
{"data": {"name": "names"}, "transform": [{"filter": "datum.p == 'b'"}],
 "mark": {"type": "text", "align": "left", "baseline": "alphabetic", "font": "Liberation Serif", "fontSize": 30, "color": "#1a1a1a"},
 "encoding": {"x": {"field": "f", "type": "quantitative"}, "y": {"field": "v", "type": "quantitative"}, "text": {"field": "name"}}}
]
},
{
"width": 507, "height": 283,
"layer": [
{"data": {"name": "refs"}, "transform": [{"filter": "datum.p == 'c'"}],
 "mark": {"type": "rule", "color": "black", "strokeWidth": 4, "strokeCap": "round"},
 "encoding": {
  "x": {"field": "f", "type": "quantitative", "scale": {"domain": [348.7, 461.8], "nice": false, "zero": false}, "axis": {"labels": false, "ticks": false, "title": null, "grid": false, "domainWidth": 3, "domainColor": "black"}},
  "y": {"field": "top", "type": "quantitative", "scale": {"domain": [0, 283], "nice": false}, "axis": {"labels": false, "ticks": false, "title": null, "grid": false, "domainWidth": 3, "domainColor": "black"}},
  "y2": {"datum": 0},
  "strokeDash": {"field": "type", "type": "nominal", "scale": {"domain": ["nonplanar", "planar"], "range": [[2.5, 8.5], [1, 0]]},
   "legend": {"orient": "none", "legendX": 201, "legendY": -100, "title": null, "padding": 0, "symbolType": "stroke", "symbolSize": 7225, "symbolStrokeWidth": 4, "symbolStrokeColor": "black", "labelFont": "Liberation Serif", "labelFontSize": 29, "labelColor": "black", "labelOffset": 11, "clipHeight": 44, "rowPadding": 0, "labelLimit": 0}}
 }},
{"data": {"name": "curves"}, "transform": [{"filter": "datum.p == 'c'"}],
 "mark": {"type": "line", "interpolate": "monotone", "strokeWidth": 3.5},
 "encoding": {
  "x": {"field": "f", "type": "quantitative"},
  "y": {"field": "v", "type": "quantitative"},
  "color": {"field": "t", "type": "nominal", "scale": {"range": ["#0000ff", "#15901a", "#ff0000"]},
   "legend": {"orient": "none", "legendX": 0, "legendY": 17, "title": null, "padding": 0, "symbolOpacity": 0, "symbolSize": 1, "symbolStrokeWidth": 0, "labelOffset": -15, "labelFont": "Liberation Serif", "labelFontSize": 26, "rowPadding": 7, "labelLimit": 0, "labelColor": {"expr": "substring(datum.label,0,1) == '1' ? '#0000ff' : substring(datum.label,0,1) == '2' ? '#1a9850' : '#ff0000'"}}}
 }},
{"data": {"name": "names"}, "transform": [{"filter": "datum.p == 'c'"}],
 "mark": {"type": "text", "align": "left", "baseline": "alphabetic", "font": "Liberation Serif", "fontSize": 30, "color": "#1a1a1a"},
 "encoding": {"x": {"field": "f", "type": "quantitative"}, "y": {"field": "v", "type": "quantitative"}, "text": {"field": "name"}}}
]
},
{
"width": 507, "height": 283,
"layer": [
{"data": {"name": "refs"}, "transform": [{"filter": "datum.p == 'd'"}],
 "mark": {"type": "rule", "color": "black", "strokeWidth": 4, "strokeCap": "round"},
 "encoding": {
  "x": {"field": "f", "type": "quantitative", "scale": {"domain": [348.7, 461.8], "nice": false, "zero": false}, "axis": {"values": [350, 375, 400, 425, 450], "tickSize": 20, "tickWidth": 3, "tickColor": "black", "labelFont": "Liberation Serif", "labelFontSize": 26, "labelColor": "black", "labelPadding": 12, "labelFlush": false, "title": "Frequency (cm⁻¹)", "titleFont": "Liberation Serif", "titleFontSize": 26, "titleFontWeight": "normal", "titleColor": "black", "titlePadding": 7, "grid": false, "domainWidth": 3, "domainColor": "black"}},
  "y": {"field": "top", "type": "quantitative", "scale": {"domain": [0, 283], "nice": false}, "axis": {"labels": false, "ticks": false, "title": null, "grid": false, "domainWidth": 3, "domainColor": "black"}},
  "y2": {"datum": 0},
  "strokeDash": {"field": "type", "type": "nominal", "scale": {"domain": ["nonplanar", "planar"], "range": [[2.5, 8.5], [1, 0]]},
   "legend": {"orient": "none", "legendX": 201, "legendY": -100, "title": null, "padding": 0, "symbolType": "stroke", "symbolSize": 7225, "symbolStrokeWidth": 4, "symbolStrokeColor": "black", "labelFont": "Liberation Serif", "labelFontSize": 29, "labelColor": "black", "labelOffset": 11, "clipHeight": 44, "rowPadding": 0, "labelLimit": 0}}
 }},
{"data": {"name": "curves"}, "transform": [{"filter": "datum.p == 'd'"}],
 "mark": {"type": "line", "interpolate": "monotone", "strokeWidth": 3.5},
 "encoding": {
  "x": {"field": "f", "type": "quantitative"},
  "y": {"field": "v", "type": "quantitative"},
  "color": {"field": "t", "type": "nominal", "scale": {"range": ["#0000ff", "#15901a", "#ff0000"]},
   "legend": {"orient": "none", "legendX": 0, "legendY": 19, "title": null, "padding": 0, "symbolOpacity": 0, "symbolSize": 1, "symbolStrokeWidth": 0, "labelOffset": -15, "labelFont": "Liberation Serif", "labelFontSize": 26, "rowPadding": 7, "labelLimit": 0, "labelColor": {"expr": "substring(datum.label,0,1) == '1' ? '#0000ff' : substring(datum.label,0,1) == '2' ? '#1a9850' : '#ff0000'"}}}
 }},
{"data": {"name": "names"}, "transform": [{"filter": "datum.p == 'd'"}],
 "mark": {"type": "text", "align": "left", "baseline": "alphabetic", "font": "Liberation Serif", "fontSize": 30, "color": "#1a1a1a"},
 "encoding": {"x": {"field": "f", "type": "quantitative"}, "y": {"field": "v", "type": "quantitative"}, "text": {"field": "name"}}}
]
}
],
"resolve": {"scale": {"x": "independent", "y": "independent", "color": "independent"}, "legend": {"color": "independent"}},
"config": {"view": {"stroke": null}, "font": "Liberation Serif", "legend": {"labelFont": "Liberation Serif"}}
}
